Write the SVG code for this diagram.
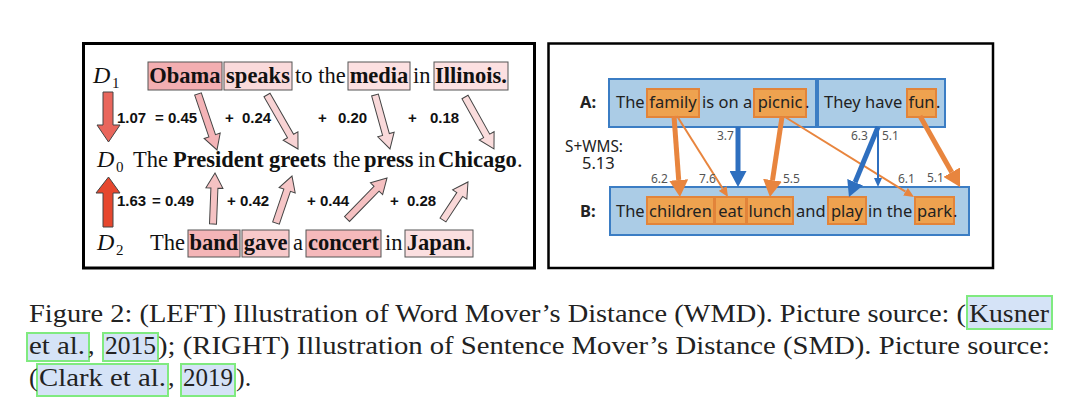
<svg xmlns="http://www.w3.org/2000/svg" width="1080" height="413" viewBox="0 0 1080 413">
<style>
.serif{font-family:"Liberation Serif","Times New Roman",serif;font-size:22.5px;fill:#111}
.b{font-weight:bold}
.dl{font-family:"Liberation Serif",serif;font-style:italic;font-size:24px;fill:#111}
.sub{font-family:"Liberation Serif",serif;font-size:15px;fill:#111}
.num{font-family:"Liberation Sans",Arial,sans-serif;font-weight:bold;font-size:15px;fill:#111}
.wbox{stroke:#555;stroke-width:1}
.parr{stroke:#444;stroke-width:1}
.sans{font-family:"Noto Sans","Open Sans",sans-serif;font-size:16.5px;fill:#222}
.lab{font-family:"Noto Sans","Open Sans",sans-serif;font-size:12px;fill:#555}
.sent{fill:#abcce6;stroke:#3b7dc4;stroke-width:2}
.ob{fill:#eea24f;stroke:#e2843a;stroke-width:2}
.cap{font-family:"Liberation Serif","Times New Roman",serif;font-size:26px;fill:#222}
.cite{fill:#d5e3f7;stroke:#80ea80;stroke-width:2}
.panel{fill:#fff;stroke:#000}
.ot{fill:none;stroke:#e8853e;stroke-width:5}
.on{fill:none;stroke:#e8853e;stroke-width:2}
.bt{fill:none;stroke:#2e6fbf;stroke-width:5}
.bn{fill:none;stroke:#2e6fbf;stroke-width:2}
</style>
<defs>
<marker id="mot" markerUnits="userSpaceOnUse" markerWidth="17" markerHeight="19" refX="0" refY="9.5" orient="auto"><path d="M0,0 L17,9.5 L0,19 Z" fill="#e8853e"/></marker>
<marker id="mon" markerUnits="userSpaceOnUse" markerWidth="10" markerHeight="9" refX="0" refY="4.5" orient="auto"><path d="M0,0 L10,4.5 L0,9 Z" fill="#e8853e"/></marker>
<marker id="mbt" markerUnits="userSpaceOnUse" markerWidth="16" markerHeight="17" refX="0" refY="8.5" orient="auto"><path d="M0,0 L16,8.5 L0,17 Z" fill="#2e6fbf"/></marker>
<marker id="mbn" markerUnits="userSpaceOnUse" markerWidth="9" markerHeight="8" refX="0" refY="4" orient="auto"><path d="M0,0 L9,4 L0,8 Z" fill="#2e6fbf"/></marker>
</defs>
<rect width="1080" height="413" fill="#fff"/>

<!-- LEFT PANEL -->
<rect id="left-panel" class="panel" x="83.5" y="43.5" width="451" height="224.5" stroke-width="3"/>

<g id="d1">
<text class="dl" x="93" y="83">D</text><text class="sub" x="112" y="88">1</text>
<rect class="wbox" x="148" y="62" width="74" height="28" fill="#f3aeb1"/>
<rect class="wbox" x="224" y="62" width="68" height="28" fill="#fadadb"/>
<rect class="wbox" x="348" y="62" width="62" height="28" fill="#fce0e1"/>
<rect class="wbox" x="434" y="62" width="74" height="28" fill="#fce0e1"/>
<text class="serif b" x="185" y="83" text-anchor="middle">Obama</text>
<text class="serif b" x="258" y="83" text-anchor="middle">speaks</text>
<text class="serif" x="295" y="83">to the</text>
<text class="serif b" x="379" y="83" text-anchor="middle">media</text>
<text class="serif" x="413" y="83">in</text>
<text class="serif b" x="471" y="83" text-anchor="middle">Illinois.</text>
</g>

<g id="d0">
<text class="dl" x="97" y="167">D</text><text class="sub" x="116" y="172">0</text>
<text class="serif" y="167"><tspan x="133">The</tspan><tspan class="b" x="173">President</tspan><tspan class="b" x="269">greets</tspan><tspan x="333">the</tspan><tspan class="b" x="364">press</tspan><tspan x="418">in</tspan><tspan class="b" x="438">Chicago</tspan><tspan x="517">.</tspan></text>
</g>

<g id="d2">
<text class="dl" x="97" y="250">D</text><text class="sub" x="116" y="255">2</text>
<rect class="wbox" x="188" y="230" width="52" height="27" fill="#f4b5b7"/>
<rect class="wbox" x="242" y="230" width="47" height="27" fill="#f7c9ca"/>
<rect class="wbox" x="306" y="230" width="75" height="27" fill="#f5b9bb"/>
<rect class="wbox" x="405" y="230" width="68" height="27" fill="#fbdfe0"/>
<text class="serif" x="150" y="250">The</text>
<text class="serif b" x="214" y="250" text-anchor="middle">band</text>
<text class="serif b" x="265.5" y="250" text-anchor="middle">gave</text>
<text class="serif" x="293" y="250">a</text>
<text class="serif b" x="343.5" y="250" text-anchor="middle">concert</text>
<text class="serif" x="385" y="250">in</text>
<text class="serif b" x="439" y="250" text-anchor="middle">Japan.</text>
</g>

<g id="wmd-sums">
<text class="num" y="123"><tspan x="117">1.07</tspan><tspan x="155">= 0.45</tspan><tspan x="225">+</tspan><tspan x="242">0.24</tspan><tspan x="318">+</tspan><tspan x="338">0.20</tspan><tspan x="408">+</tspan><tspan x="430">0.18</tspan></text>
<text class="num" y="206"><tspan x="117">1.63</tspan><tspan x="152">= 0.49</tspan><tspan x="227">+ 0.42</tspan><tspan x="307">+ 0.44</tspan><tspan x="390">+</tspan><tspan x="407">0.28</tspan></text>
</g>

<g id="wmd-connectors">
<polygon class="parr" fill="#e9665c" points="103,92 113,92 113,125 120,125 108.5,142 97,125 103,125" stroke="#333"/>
<polygon class="parr" fill="#e6472e" points="103,227 113,227 113,193 120,193 108.5,177 96,193 103,193" stroke="#333"/>
<g transform="translate(198,94) rotate(71.26)"><polygon class="parr" fill="#f4b4b7" points="0,-3.5 44.1,-3.5 44.1,-8.5 59.1,0 44.1,8.5 44.1,3.5 0,3.5"/></g>
<g transform="translate(267,95) rotate(60.14)"><polygon class="parr" fill="#f8d3d4" points="0,-3.5 47.3,-3.5 47.3,-8.5 62.3,0 47.3,8.5 47.3,3.5 0,3.5"/></g>
<g transform="translate(375,95) rotate(74.48)"><polygon class="parr" fill="#f9d9da" points="0,-3.5 41,-3.5 41,-8.5 56,0 41,8.5 41,3.5 0,3.5"/></g>
<g transform="translate(465,97) rotate(60.85)"><polygon class="parr" fill="#fadcdc" points="0,-3.5 44.5,-3.5 44.5,-8.5 59.5,0 44.5,8.5 44.5,3.5 0,3.5"/></g>
<g transform="translate(213,224) rotate(-87.75)"><polygon class="parr" fill="#f5c2c3" points="0,-3.5 36,-3.5 36,-8.5 51,0 36,8.5 36,3.5 0,3.5"/></g>
<g transform="translate(276,223) rotate(-71.2)"><polygon class="parr" fill="#f6c6c7" points="0,-3.5 34.6,-3.5 34.6,-8.5 49.6,0 34.6,8.5 34.6,3.5 0,3.5"/></g>
<g transform="translate(347,219) rotate(-45.7)"><polygon class="parr" fill="#f5c0c1" points="0,-3.5 42.3,-3.5 42.3,-8.5 57.3,0 42.3,8.5 42.3,3.5 0,3.5"/></g>
<g transform="translate(443,220) rotate(-56.7)"><polygon class="parr" fill="#f9d8d8" points="0,-3.5 30.5,-3.5 30.5,-8.5 45.5,0 30.5,8.5 30.5,3.5 0,3.5"/></g>
</g>

<!-- RIGHT PANEL -->
<rect id="right-panel" class="panel" x="548.5" y="43.5" width="444.5" height="224.5" stroke-width="2.5"/>

<g id="labels-right">
<text class="sans b" x="580" y="108">A:</text>
<text class="sans b" x="580" y="217">B:</text>
<text class="sans" font-size="12.5" fill="#333"><tspan x="565" y="152" textLength="58" lengthAdjust="spacingAndGlyphs">S+WMS:</tspan><tspan x="582" y="169">5.13</tspan></text>
</g>

<g id="sentA1">
<rect class="sent" x="609" y="79" width="207" height="48"/>
<rect class="ob" x="647" y="89" width="52" height="28"/>
<rect class="ob" x="754" y="89" width="52" height="28"/>
<text class="sans" x="616" y="108">The</text>
<text class="sans" x="673" y="108" text-anchor="middle">family</text>
<text class="sans" x="702" y="108">is on a</text>
<text class="sans" x="780" y="108" text-anchor="middle">picnic</text>
<text class="sans" x="805" y="108">.</text>
</g>

<g id="sentA2">
<rect class="sent" x="818" y="79" width="127" height="48"/>
<rect class="ob" x="907" y="89" width="29" height="28"/>
<text class="sans" x="824" y="108">They have</text>
<text class="sans" x="921.5" y="108" text-anchor="middle">fun</text>
<text class="sans" x="936" y="108">.</text>
</g>

<g id="sentB">
<rect class="sent" x="610" y="187" width="359" height="48"/>
<rect class="ob" x="647" y="197" width="67" height="27"/>
<rect class="ob" x="715" y="197" width="31" height="27"/>
<rect class="ob" x="747" y="197" width="46" height="27"/>
<rect class="ob" x="828" y="197" width="38" height="27"/>
<rect class="ob" x="915" y="197" width="39" height="27"/>
<text class="sans" x="616" y="217">The</text>
<text class="sans" x="680.5" y="217" text-anchor="middle">children</text>
<text class="sans" x="730.5" y="217" text-anchor="middle">eat</text>
<text class="sans" x="770" y="217" text-anchor="middle">lunch</text>
<text class="sans" x="796" y="217">and</text>
<text class="sans" x="847" y="217" text-anchor="middle">play</text>
<text class="sans" x="868" y="217">in the</text>
<text class="sans" x="934.5" y="217" text-anchor="middle">park</text>
<text class="sans" x="953" y="217">.</text>
</g>

<g id="smd-connectors">
<line class="on" x1="677" y1="116" x2="722.7" y2="188.5" marker-end="url(#mon)"/>
<line class="on" x1="785" y1="117" x2="905.5" y2="191.7" marker-end="url(#mon)"/>
<line class="ot" x1="674" y1="116" x2="678.7" y2="180" marker-end="url(#mot)"/>
<line class="ot" x1="782" y1="117" x2="772.5" y2="180.2" marker-end="url(#mot)"/>
<line class="ot" x1="920" y1="116" x2="951.7" y2="172.2" marker-end="url(#mot)"/>
<line class="bt" x1="738" y1="127" x2="738" y2="171" marker-end="url(#mbt)"/>
<line class="bt" x1="878" y1="127" x2="855.1" y2="182.2" marker-end="url(#mbt)"/>
<line class="bn" x1="878" y1="127" x2="878" y2="178" marker-end="url(#mbn)"/>
<text class="lab" x="717" y="140">3.7</text>
<text class="lab" x="851" y="140">6.3</text>
<text class="lab" x="882" y="140">5.1</text>
<text class="lab" x="651" y="183">6.2</text>
<text class="lab" x="699" y="183">7.6</text>
<text class="lab" x="783" y="183">5.5</text>
<text class="lab" x="898" y="183">6.1</text>
<text class="lab" x="927" y="182">5.1</text>
</g>

<!-- CAPTION -->
<g id="caption">
<rect class="cite" x="967" y="296" width="85" height="33"/>
<rect class="cite" x="27" y="333" width="62" height="28"/>
<rect class="cite" x="103" y="333" width="55" height="28"/>
<rect class="cite" x="37" y="364" width="131" height="32"/>
<rect class="cite" x="181" y="364" width="54" height="32"/>
<text class="cap" x="29" y="322" textLength="937" lengthAdjust="spacingAndGlyphs">Figure 2: (LEFT) Illustration of Word Mover’s Distance (WMD). Picture source: (</text>
<text class="cap" x="969" y="322" textLength="80" lengthAdjust="spacingAndGlyphs">Kusner</text>
<text class="cap" x="29" y="354" textLength="56" lengthAdjust="spacingAndGlyphs">et al.</text>
<text class="cap" x="88" y="354">,</text>
<text class="cap" x="105" y="354" textLength="51" lengthAdjust="spacingAndGlyphs">2015</text>
<text class="cap" x="158" y="354" textLength="892" lengthAdjust="spacingAndGlyphs">); (RIGHT) Illustration of Sentence Mover’s Distance (SMD). Picture source:</text>
<text class="cap" x="29" y="386">(</text>
<text class="cap" x="39" y="386" textLength="127" lengthAdjust="spacingAndGlyphs">Clark et al.</text>
<text class="cap" x="168" y="386">,</text>
<text class="cap" x="183" y="386" textLength="50" lengthAdjust="spacingAndGlyphs">2019</text>
<text class="cap" x="236" y="386">).</text>
</g>
</svg>
